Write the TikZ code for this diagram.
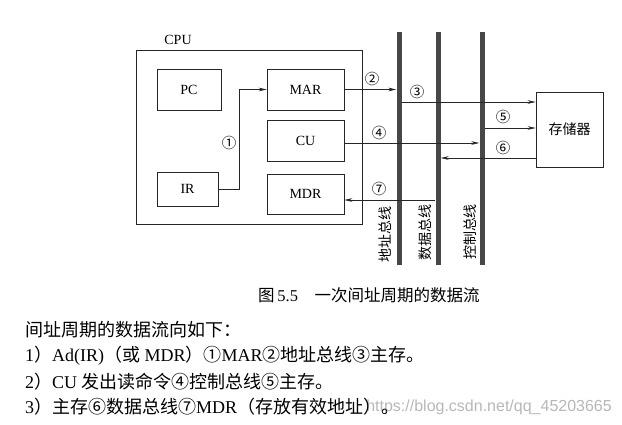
\documentclass[tikz,border=0pt]{standalone}
\usepackage{fontspec}
\setmainfont{Liberation Serif}
\newfontfamily\cjk{Noto Sans CJK SC}
\newfontfamily\wmfont{Liberation Sans}
\usetikzlibrary{arrows.meta}
\newcommand{\zhtxt}[1]{{\cjk #1}}
\begin{document}
\begin{tikzpicture}[x=1pt,y=-1pt,
  ln/.style={draw=black!85,line width=0.7pt},
  box/.style={ln,rectangle,inner sep=0pt,font=\fontsize{14}{16}\selectfont},
  bus/.style={rectangle,fill=black!72,draw=none,inner sep=0pt,minimum width=5pt,minimum height=233pt},
  arr/.style={draw=black!85,line width=0.6pt,-{Stealth[length=8pt,width=3.6pt]}},
  num/.style={inner sep=0pt,font=\cjk\fontsize{14.5}{16}\selectfont},
  buslabel/.style={inner sep=0pt,rotate=90,font=\cjk\fontsize{14}{16}\selectfont},
  body/.style={inner sep=0pt,anchor=west,font=\fontsize{18}{21}\selectfont}
]
\useasboundingbox (0,0) rectangle (622,425);
\fill[white] (0,0) rectangle (622,425);

% CPU
\node[box,minimum width=226pt,minimum height=174pt] (cpu) at (249,137) {};
\node[inner sep=0pt,font=\fontsize{14}{16}\selectfont] (cpulabel) at (178,40) {CPU};
\node[box,minimum width=64pt,minimum height=41pt] (pc) at (189,89.5) {PC};
\node[box,minimum width=77pt,minimum height=41pt] (mar) at (305.5,89.5) {MAR};
\node[box,minimum width=77pt,minimum height=41pt] (cu) at (305.5,140.5) {CU};
\node[box,minimum width=61pt,minimum height=34pt] (ir) at (187.5,189) {IR};
\node[box,minimum width=77pt,minimum height=40pt] (mdr) at (305.5,194) {MDR};

% memory
\node[box,minimum width=67pt,minimum height=75pt,font=\cjk\fontsize{14}{16}\selectfont] (mem) at (569.5,129.5) {存储器};

% buses
\node[bus] (ab) at (399,148.5) {};
\node[bus] (db) at (438,148.5) {};
\node[bus] (cb) at (482,148.5) {};
\node[buslabel] (abl) at (385,234) {地址总线};
\node[buslabel] (dbl) at (425,233) {数据总线};
\node[buslabel] (cbl) at (470,232) {控制总线};

% levels
\coordinate (y3) at (0,102);
\coordinate (y4) at (0,143);
\coordinate (y5) at (0,128);
\coordinate (y6) at (0,158);
\coordinate (y7) at (0,200);

% connectors
\draw[arr] (ir.east) -- ++(21,0) |- (mar.west);
\draw[arr] (mar.east) -- (mar.east -| ab.west);
\draw[arr] (ab.east |- y3) -- (mem.west |- y3);
\draw[arr] (cu.east |- y4) -- (cb.west |- y4);
\draw[arr] (cb.east |- y5) -- (mem.west |- y5);
\draw[arr] (mem.west |- y6) -- (db.east |- y6);
\draw[arr] (db.west |- y7) -- (mdr.east |- y7);

% numbers
\node[num] (n1) at (229,143) {①};
\node[num] (n2) at (372,79) {②};
\node[num] (n3) at (417,92) {③};
\node[num] (n4) at (379,133) {④};
\node[num] (n5) at (503,117) {⑤};
\node[num] (n6) at (503,148) {⑥};
\node[num] (n7) at (379,189) {⑦};

% caption
\node[inner sep=0pt,anchor=west,font=\fontsize{16.5}{18}\selectfont] (cap) at (258,295)
  {\zhtxt{图}\,5.5\zhtxt{　一次间址周期的数据流}};

% watermark
\node[inner sep=0pt,anchor=east,text=black!28,font=\wmfont\fontsize{16}{18}\selectfont] (wm) at (612,407)
  {https://blog.csdn.net/qq\_45203665};

% body text
\node[body] (t0) at (25,330) {\zhtxt{间址周期的数据流向如下：}};
\node[body] (t1) at (25,356) {1\zhtxt{）}Ad(IR)\zhtxt{（或} MDR\zhtxt{）①}MAR\zhtxt{②地址总线③主存。}};
\node[body] (t2) at (25,381.5) {2\zhtxt{）}CU \zhtxt{发出读命令④控制总线⑤主存。}};
\node[body] (t3) at (25,407) {3\zhtxt{）主存⑥数据总线⑦}MDR\zhtxt{（存放有效地址）。}};
\end{tikzpicture}
\end{document}
